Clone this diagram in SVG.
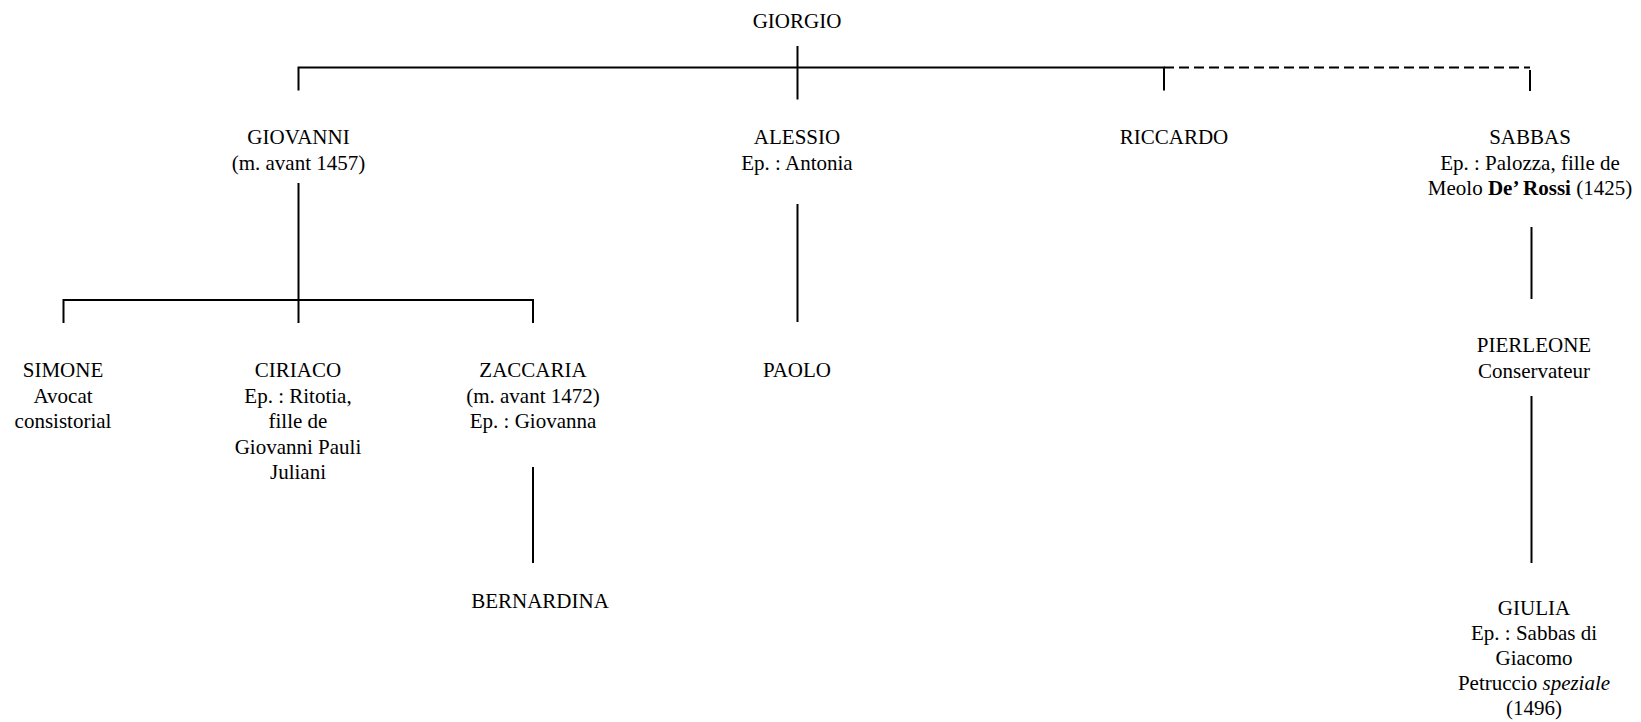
<svg xmlns="http://www.w3.org/2000/svg" width="1641" height="722" viewBox="0 0 1641 722">
<style>
text{font-family:"Liberation Serif","Times New Roman",serif;font-size:21px;fill:#000;text-anchor:middle}
.ln{stroke:#000;stroke-width:2;fill:none}
.dash{stroke-dasharray:10,5}
.b{font-weight:bold}
.i{font-style:italic}
</style>
<rect width="1641" height="722" fill="#fff"/>
<g id="connectors">
<path class="ln" d="M797.5 46V99.5"/>
<path class="ln" d="M298.5 90.5V67.5H1164V90.5"/>
<path class="ln dash" d="M1164 67.5H1530"/>
<path class="ln" d="M1530 70V91"/>
<path class="ln" d="M298.5 183V323"/>
<path class="ln" d="M63.5 323V300H533V323"/>
<path class="ln" d="M797.5 204V322"/>
<path class="ln" d="M1531.5 227V299"/>
<path class="ln" d="M533 467V563"/>
<path class="ln" d="M1531.5 396V563"/>
</g>
<g id="giorgio"><text x="797" y="28">GIORGIO</text></g>
<g id="giovanni"><text x="298.5" y="144">GIOVANNI</text><text x="298.5" y="169.5">(m. avant 1457)</text></g>
<g id="alessio"><text x="797" y="144">ALESSIO</text><text x="797" y="169.5">Ep. : Antonia</text></g>
<g id="riccardo"><text x="1174" y="144">RICCARDO</text></g>
<g id="sabbas"><text x="1530" y="144">SABBAS</text><text x="1530" y="169.5">Ep. : Palozza, fille de</text><text x="1530" y="195">Meolo <tspan class="b">De’ Rossi</tspan> (1425)</text></g>
<g id="simone"><text x="63" y="377">SIMONE</text><text x="63" y="402.5">Avocat</text><text x="63" y="428">consistorial</text></g>
<g id="ciriaco"><text x="298" y="377">CIRIACO</text><text x="298" y="402.5">Ep. : Ritotia,</text><text x="298" y="428">fille de</text><text x="298" y="453.5">Giovanni Pauli</text><text x="298" y="479">Juliani</text></g>
<g id="zaccaria"><text x="533" y="377">ZACCARIA</text><text x="533" y="402.5">(m. avant 1472)</text><text x="533" y="428">Ep. : Giovanna</text></g>
<g id="paolo"><text x="797" y="377">PAOLO</text></g>
<g id="bernardina"><text x="540" y="608">BERNARDINA</text></g>
<g id="pierleone"><text x="1534" y="352">PIERLEONE</text><text x="1534" y="377.5">Conservateur</text></g>
<g id="giulia"><text x="1534" y="615">GIULIA</text><text x="1534" y="640">Ep. : Sabbas di</text><text x="1534" y="665">Giacomo</text><text x="1534" y="690">Petruccio <tspan class="i">speziale</tspan></text><text x="1534" y="715">(1496)</text></g>
</svg>
